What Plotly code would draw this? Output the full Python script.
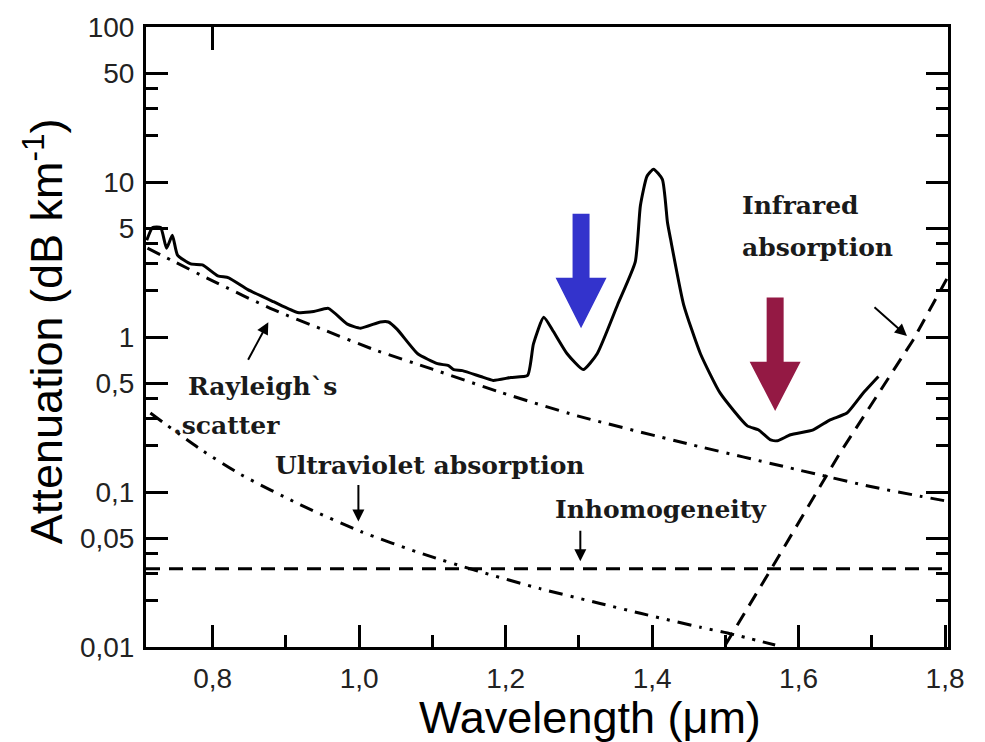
import numpy as np
import plotly.graph_objects as go

# ---------------- data ----------------
total_wl = [0.710, 0.718, 0.729, 0.737, 0.745, 0.752, 0.770, 0.786, 0.807, 0.822, 0.848, 0.883,
            0.916, 0.938, 0.958, 0.984, 1.002, 1.029, 1.040, 1.052, 1.080, 1.107, 1.122, 1.129,
            1.141, 1.166, 1.183, 1.207, 1.230, 1.238, 1.252, 1.265, 1.284, 1.306, 1.325, 1.353,
            1.377, 1.384, 1.393, 1.402, 1.414, 1.421, 1.425, 1.443, 1.466, 1.493, 1.530, 1.545,
            1.561, 1.571, 1.589, 1.620, 1.643, 1.666, 1.688, 1.709]
total_att = [4.21, 5.09, 5.09, 3.74, 4.53, 3.38, 2.96, 2.92, 2.48, 2.41, 2.02, 1.69,
             1.44, 1.46, 1.53, 1.21, 1.14, 1.25, 1.25, 1.12, 0.78, 0.673, 0.654, 0.616,
             0.607, 0.556, 0.525, 0.548, 0.565, 0.902, 1.34, 1.09, 0.78, 0.616, 0.78, 1.62,
             3.05, 7.03, 10.9, 12.1, 10.4, 5.48, 4.33, 1.62, 0.78, 0.434, 0.267, 0.252,
             0.218, 0.214, 0.234, 0.252, 0.292, 0.323, 0.434, 0.556]

rayleigh_wl = [0.711, 0.743, 0.800, 0.883, 0.950, 1.020, 1.100, 1.193, 1.298, 1.448, 1.602, 1.700, 1.766, 1.804]
rayleigh_att = [3.74, 3.14, 2.30, 1.50, 1.12, 0.83, 0.62, 0.44, 0.31, 0.205, 0.138, 0.108, 0.094, 0.087]

uv_wl = [0.715, 0.784, 0.838, 0.920, 1.002, 1.088, 1.162, 1.247, 1.329, 1.384, 1.466, 1.503, 1.568]
uv_att = [0.323, 0.188, 0.130, 0.0826, 0.0556, 0.0397, 0.0309, 0.0238, 0.0191, 0.0165, 0.0134, 0.0123, 0.0103]

inhom_wl = [0.709, 1.804]
inhom_att = [0.032, 0.032]

ir_wl = [1.500, 1.561, 1.657, 1.756, 1.804]
ir_att = [0.0103, 0.031, 0.18, 0.95, 2.45]

x_tickvals = [0.8, 1.0, 1.2, 1.4, 1.6, 1.8]
x_ticktext = ["0,8", "1,0", "1,2", "1,4", "1,6", "1,8"]
x_minor = [0.9, 1.1, 1.3, 1.5, 1.7]
y_tickvals = [0.01, 0.05, 0.1, 0.5, 1, 5, 10, 50, 100]
y_ticktext = ["0,01", "0,05", "0,1", "0,5", "1", "5", "10", "50", "100"]
y_minor = [0.02, 0.03, 0.04, 0.2, 0.3, 0.4, 2, 3, 4, 20, 30, 40]

# window arrows: wavelength, tip, head base, shaft top
blue_arrow = (1.303, 1.14, 2.41, 6.25)
red_arrow = (1.568, 0.333, 0.693, 1.80)

# ---------------- figure ----------------
fig = go.Figure()

def arrow_poly(a, head_hw=0.0348, shaft_hw=0.0116):
    x, tip, base, top = a
    xs = [x - shaft_hw, x + shaft_hw, x + shaft_hw, x + head_hw, x, x - head_hw, x - shaft_hw, x - shaft_hw]
    ys = [top, top, base, base, tip, base, base, top]
    return xs, ys

for a, col in [(blue_arrow, "#3333CC"), (red_arrow, "#941944")]:
    xs, ys = arrow_poly(a)
    fig.add_trace(go.Scatter(x=xs, y=ys, fill="toself", fillcolor=col, mode="lines",
                             line=dict(width=0, color=col), hoverinfo="skip", showlegend=False))

fig.add_trace(go.Scatter(x=inhom_wl, y=inhom_att, mode="lines",
                         line=dict(color="black", width=3, dash="14px,9px"), showlegend=False))
fig.add_trace(go.Scatter(x=ir_wl, y=ir_att, mode="lines",
                         line=dict(color="black", width=3, dash="14px,9px"), showlegend=False))
fig.add_trace(go.Scatter(x=rayleigh_wl, y=rayleigh_att, mode="lines",
                         line=dict(color="black", width=3, dash="14px,8px,3px,8px", shape="spline", smoothing=0.6),
                         showlegend=False))
fig.add_trace(go.Scatter(x=uv_wl, y=uv_att, mode="lines",
                         line=dict(color="black", width=3, dash="14px,8px,3px,8px,3px,8px", shape="spline", smoothing=0.6),
                         showlegend=False))
fig.add_trace(go.Scatter(x=total_wl, y=total_att, mode="lines",
                         line=dict(color="black", width=3, shape="spline", smoothing=0.5),
                         showlegend=False))
# invisible trace to carry the top axis
fig.add_trace(go.Scatter(x=[0.8], y=[1], xaxis="x2", yaxis="y", mode="markers",
                         marker=dict(opacity=0), hoverinfo="skip", showlegend=False))

tick_font = dict(family="Liberation Sans, Arial, sans-serif", size=28, color="#222")
xr = [0.709, 1.804]

fig.update_layout(
    width=985, height=742,
    margin=dict(l=146, r=37, t=19, b=95),
    paper_bgcolor="white", plot_bgcolor="white",
    xaxis=dict(range=xr, showgrid=False, zeroline=False, showline=True, linewidth=3,
               linecolor="black", mirror=True, ticks="inside", ticklen=22, tickwidth=3,
               tickcolor="black", tickvals=x_tickvals, ticktext=x_ticktext, tickfont=tick_font,
               ticklabelstandoff=4,
               minor=dict(tickvals=x_minor, ticks="inside", ticklen=12, tickwidth=3, tickcolor="black")),
    xaxis2=dict(range=xr, overlaying="x", side="top", showgrid=False, zeroline=False,
                showline=False, ticks="inside", ticklen=23, tickwidth=3, tickcolor="black",
                tickvals=[0.8], showticklabels=False),
    yaxis=dict(type="log", range=[-2, 2], showgrid=False, zeroline=False, showline=True,
               linewidth=3, linecolor="black", mirror="ticks", ticks="inside", ticklen=22,
               tickwidth=3, tickcolor="black", tickvals=y_tickvals, ticktext=y_ticktext,
               tickfont=tick_font, ticklabelstandoff=3,
               minor=dict(tickvals=y_minor, ticks="inside", ticklen=12, tickwidth=3, tickcolor="black")),
)

title_font = dict(family="Liberation Sans, Arial, sans-serif", size=45, color="black")
fig.add_annotation(text="Wavelength (\u03bcm)", xref="paper", yref="paper", x=0.553, y=-0.113,
                   xanchor="center", yanchor="middle", showarrow=False, font=title_font)
fig.add_annotation(text="Attenuation (dB km<sup>-1</sup>)", xref="paper", yref="paper", x=-0.128, y=0.51,
                   xanchor="center", yanchor="middle", textangle=-90, showarrow=False, font=title_font)

lab_font = dict(family="DejaVu Serif, Liberation Serif, serif", size=25, color="#1a1a1a")
labels = [
    ("Rayleigh`s", 0.763, 0.48),
    (".scatter", 0.743, 0.267),
    ("Ultraviolet absorption", 0.882, 0.148),
    ("Inhomogeneity", 1.265, 0.077),
    ("Infrared", 1.520, 7.03),
    ("absorption", 1.520, 3.80),
]
for t, x, y in labels:
    fig.add_annotation(text="<b>" + t + "</b>", x=x, y=np.log10(y), xref="x", yref="y",
                       xanchor="left", yanchor="middle", showarrow=False, font=lab_font)

pointers = [  # head x, head y, tail offset (px)
    (0.876, 1.246, -21, 39),
    (0.999, 0.0644, 0, -38),
    (1.302, 0.0358, 0, -32),
    (1.748, 1.015, -34, -30),
]
for x, y, ax, ay in pointers:
    fig.add_annotation(x=x, y=np.log10(y), xref="x", yref="y", ax=ax, ay=ay, text="",
                       showarrow=True, arrowhead=2, arrowsize=1.2, arrowwidth=2, arrowcolor="black")

fig.write_html("out.html")
